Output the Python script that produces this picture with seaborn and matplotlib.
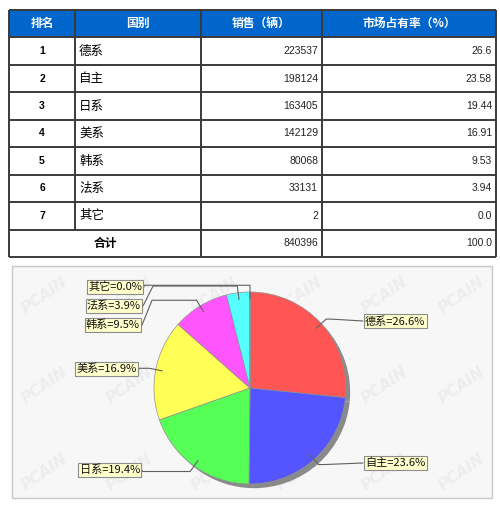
import numpy as np
import seaborn as sns
import matplotlib.pyplot as plt
from matplotlib.patches import Rectangle

ranks = ["1", "2", "3", "4", "5", "6", "7"]
countries = ["德系", "自主", "日系", "美系", "韩系", "法系", "其它"]
sales = [223537, 198124, 163405, 142129, 80068, 33131, 2]
shares = ["26.6", "23.58", "19.44", "16.91", "9.53", "3.94", "0.0"]
headers = ["排名", "国别", "销售（辆）", "市场占有率（%）"]
total_label = "合计"
total_sales = "840396"
total_share = "100.0"

sns.set_theme(style="white")
plt.rcParams['font.family'] = ['Noto Sans CJK SC', 'DejaVu Sans']
pie_colors = sns.color_palette(["#FF5555", "#5555FF", "#55FF55", "#FFFF55",
                                "#FF55FF", "#55FFFF", "#AAAAAA"])

W, H = 500, 508
fig = plt.figure(figsize=(5, 5.08), dpi=100)
ax = fig.add_axes([0, 0, 1, 1])


def Y(p):
    # pixel row (from top) -> data y
    return H - p


# ---- table ----
col_x = [9, 75, 201, 322, 496]
row_y = np.linspace(10, 257, 10)
ax.add_patch(Rectangle((col_x[0], Y(row_y[1])), col_x[-1] - col_x[0],
                       row_y[1] - row_y[0], fc="#0066CC", ec="none", zorder=1))
ax.hlines([Y(r) for r in row_y], col_x[0], col_x[-1], color="#3a3a3a", lw=1.4, zorder=3)
for j, x in enumerate(col_x):
    bottom = row_y[-1] if j != 1 else row_y[-2]
    ax.vlines(x, Y(bottom), Y(row_y[0]), color="#3a3a3a", lw=1.4, zorder=3)

head_y = Y((row_y[0] + row_y[1]) / 2)
for j, h in enumerate(headers):
    ax.text((col_x[j] + col_x[j + 1]) / 2, head_y, h, color="white",
            fontsize=8.5, fontweight="bold", ha="center", va="center")

num_font = ['Liberation Sans', 'DejaVu Sans']
for i in range(len(countries)):
    yc = Y((row_y[i + 1] + row_y[i + 2]) / 2)
    ax.text((col_x[0] + col_x[1]) / 2, yc, ranks[i], fontsize=7.5, fontweight="bold",
            ha="center", va="center", family=num_font, color="black")
    ax.text(col_x[1] + 4, yc, countries[i], fontsize=9, ha="left", va="center", color="black")
    ax.text(col_x[3] - 4, yc, f"{sales[i]}", fontsize=7.5, ha="right", va="center",
            family=num_font, color="#222222")
    ax.text(col_x[4] - 4, yc, shares[i], fontsize=7.5, ha="right", va="center",
            family=num_font, color="#222222")
yc = Y((row_y[-2] + row_y[-1]) / 2)
ax.text((col_x[0] + col_x[2]) / 2, yc, total_label, fontsize=8.5, fontweight="bold",
        ha="center", va="center", color="black")
ax.text(col_x[3] - 4, yc, total_sales, fontsize=7.5, ha="right", va="center",
        family=num_font, color="#222222")
ax.text(col_x[4] - 4, yc, total_share, fontsize=7.5, ha="right", va="center",
        family=num_font, color="#222222")

# ---- pie panel ----
panel = Rectangle((12, Y(498)), 480, 232, fc="#F7F7F7", ec="#C8C8C8", lw=1, zorder=0.5)
ax.add_patch(panel)
for wx in [45, 130, 215, 300, 385, 462]:
    for wy in [295, 385, 472]:
        ax.text(wx, Y(wy), "PCAIN", fontsize=11, style="italic", fontweight="bold",
                rotation=35, color="#EDEDED", ha="center", va="center",
                family=['DejaVu Sans'], zorder=0.6)

cx, cy, R = 250, Y(388), 96
ax.pie(sales, colors=pie_colors, startangle=90, counterclock=False,
       center=(cx, cy), radius=R, frame=True,
       wedgeprops=dict(edgecolor="#909090", linewidth=0.5),
       shadow=dict(ox=3, oy=-3, facecolor="#8A8A8A", edgecolor="none", alpha=1))

fr = np.array(sales) / sum(sales)
mid = np.cumsum(fr) - fr / 2
ang = np.deg2rad(90 - 360 * mid)
pie_labels = [f"{c}={f * 100:.1f}%" for c, f in zip(countries, fr)]
label_pos = [(365, 321, "left"), (365, 463, "left"), (140, 470, "right"),
             (137, 369, "right"), (140, 325, "right"), (141, 306, "right"),
             (142, 287, "right")]

for k, (lx, ly, ha) in enumerate(label_pos):
    ux, uy = np.cos(ang[k]), np.sin(ang[k])
    ax0, ay0 = cx + 0.93 * R * ux, cy + 0.93 * R * uy
    ex, ey = cx + 1.07 * R * ux, cy + 1.07 * R * uy
    if ha == "left":
        edge = lx - 2
        hx = min(ex + 5, edge - 8)
    else:
        edge = lx + 2
        hx = edge + 10 if abs(Y(ly) - ey) > 4 else edge
    ax.plot([ax0, ex, hx, edge], [ay0, ey, ey, Y(ly)], color="#606060", lw=0.8, zorder=4)
    ax.text(lx, Y(ly), pie_labels[k], fontsize=8, ha=ha, va="center", color="#111111",
            zorder=5, bbox=dict(boxstyle="square,pad=0.12", fc="#FFFFCC",
                                ec="#8C8C8C", lw=0.8))

ax.set_xlim(0, W)
ax.set_ylim(0, H)
ax.axis("off")
fig.savefig("out.png", dpi=100, facecolor="white")
